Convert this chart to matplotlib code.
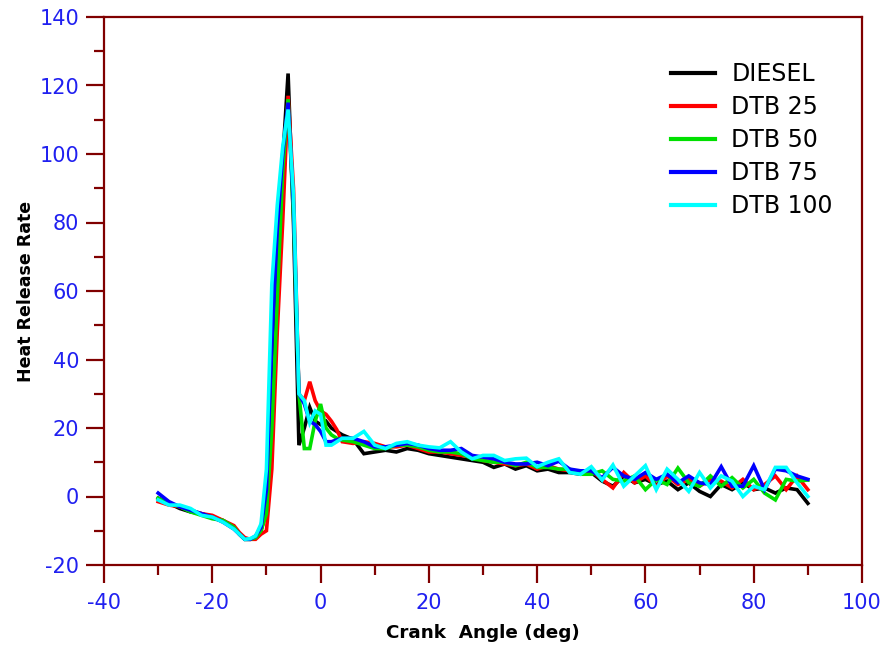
import matplotlib

matplotlib.use("Agg")
import matplotlib.pyplot as plt
from matplotlib.ticker import MultipleLocator

plt.rcParams["axes.unicode_minus"] = False

# crank angle grid (deg)
angle = [-30, -28, -26, -24, -22, -20, -18, -16,
         -15, -14, -13, -12, -11, -10, -9, -8, -7, -6, -5, -4, -3, -2, -1, 0, 1, 2, 3, 4,
         6, 8, 10, 12, 14, 16, 18, 20, 22, 24, 26, 28, 30, 32, 34, 36, 38, 40,
         42, 44, 46, 48, 50, 52, 54, 56, 58, 60, 62, 64, 66, 68, 70, 72, 74, 76,
         78, 80, 82, 84, 86, 88, 90]

diesel = [-0.5, -2, -3.5, -4.5, -5, -6, -7, -9,
          -11, -12.5, -12.5, -12, -10, -4, 25, 65, 98, 123.5, 80, 15, 20, 26, 22, 21, 22, 20, 19, 18,
          16.7, 12.5, 13, 13.5, 13, 14, 13.5, 12.5, 12, 11.5, 11, 10.5, 10, 8.5, 9.5, 8, 9, 7.5,
          8, 7, 7, 6.5, 7, 4.5, 3, 6, 4, 5, 3.5, 4.5, 2, 4, 1.5, 0, 3.5, 2,
          4, 2, 2.5, 1, 2.5, 2, -2]
dtb25 = [-1.5, -2.5, -3, -4, -5, -5.5, -7, -8.5,
         -10.5, -12, -12.5, -12.5, -11, -10, 8, 48, 80, 117, 90, 30, 28, 33.5, 28, 25, 24, 22, 19.5, 16,
         15.5, 16, 15.5, 14.5, 14.5, 15, 14, 13, 13, 12.5, 12, 11.5, 10.5, 10, 9.5, 9, 9.5, 8,
         9, 8, 7.5, 7, 7.5, 5, 2.5, 7, 4, 6, 3, 6, 3.5, 5, 3, 5, 4.5, 2.5,
         5, 2, 3.5, 6, 2, 6, 2]
dtb50 = [-0.5, -2, -3, -4.5, -5.5, -6.5, -7, -9,
         -11, -12.5, -12.5, -12, -10, -5, 20, 58, 95, 116, 82, 30, 14, 14, 22, 27, 20, 18, 17, 16.5,
         16, 15, 14, 14, 15, 15, 14.5, 13.5, 13, 13, 12.5, 11, 10.5, 10, 10, 9, 10, 8.5,
         8.5, 8, 8, 6.5, 6.5, 7.5, 5, 4.5, 6, 2, 5, 3.5, 8.3, 4, 3, 6, 3, 5.5,
         2.5, 5, 1, -1, 5, 4.5, 4.8]
dtb75 = [1, -1.5, -3, -4, -5, -6, -7.5, -9.5,
         -11, -12.5, -12.5, -11.5, -9, 2, 45, 78, 100, 115, 85, 30, 27, 22, 21, 19, 16, 16, 16.5, 17,
         17, 16, 14.5, 14.5, 15, 15.5, 15, 14, 13.5, 13.5, 14, 12, 11.5, 11, 10, 9.5, 9.5, 10,
         9, 10.3, 8, 7.5, 7.5, 5.5, 8.5, 6, 5, 7, 5, 6.5, 4, 6, 4, 3.5, 8.7, 3,
         3, 9, 2, 8, 7.5, 6, 5]
dtb100 = [-1, -2.5, -2.5, -3.5, -5.5, -6, -7.5, -9.5,
          -11, -12.5, -12.3, -11.5, -8, 8, 62, 85, 102, 113, 88, 30, 28, 21.5, 25, 24, 15, 15, 16, 17,
          17, 19, 15, 14, 15.5, 16, 15, 14.5, 14.2, 16, 13, 11, 12, 12, 10.5, 11, 11.2, 8.7,
          10, 11, 7, 6.5, 8.7, 4.8, 9.2, 3, 6, 9, 2, 8, 5, 1.5, 7, 2.5, 6, 4.5,
          0, 3, 2, 8.5, 8.5, 4, 0]

series = [("DIESEL", diesel, "#000000"),
          ("DTB 25", dtb25, "#ff0000"),
          ("DTB 50", dtb50, "#00e000"),
          ("DTB 75", dtb75, "#0000ff"),
          ("DTB 100", dtb100, "#00ffff")]

MAROON = "#800000"
BLUE = "#2020f0"

fig = plt.figure(figsize=(8.88, 6.48), dpi=100)
ax = fig.add_axes([104 / 888, 1 - 565 / 648, 758 / 888, 548 / 648])

for name, vals, col in series:
    ax.plot(angle, vals, color=col, lw=2.6, label=name, solid_joinstyle="miter")

ax.set_xlim(-40, 100)
ax.set_ylim(-20, 140)
ax.xaxis.set_major_locator(MultipleLocator(20))
ax.xaxis.set_minor_locator(MultipleLocator(10))
ax.yaxis.set_major_locator(MultipleLocator(20))
ax.yaxis.set_minor_locator(MultipleLocator(10))

for s in ax.spines.values():
    s.set_color(MAROON)
    s.set_linewidth(1.6)

ax.tick_params(which="both", direction="out", color=MAROON, width=1.6,
               labelcolor=BLUE, labelsize=15, top=False, right=False)
ax.tick_params(which="major", length=13)
ax.tick_params(which="minor", length=7)
ax.tick_params(axis="y", pad=5)
ax.tick_params(axis="x", pad=7)

ax.set_xlabel("Crank  Angle (deg)", fontsize=13.2, fontweight="bold", labelpad=8)
ax.set_ylabel("Heat Release Rate", fontsize=12.5, fontweight="bold", labelpad=3)

leg = ax.legend(loc="upper left", bbox_to_anchor=(0.748, 0.918), frameon=False,
                fontsize=17, handlelength=1.85, handletextpad=0.7,
                labelspacing=0.38, borderaxespad=0, borderpad=0)
for h in leg.get_lines():
    h.set_linewidth(3)

fig.savefig("out.png", dpi=100)
